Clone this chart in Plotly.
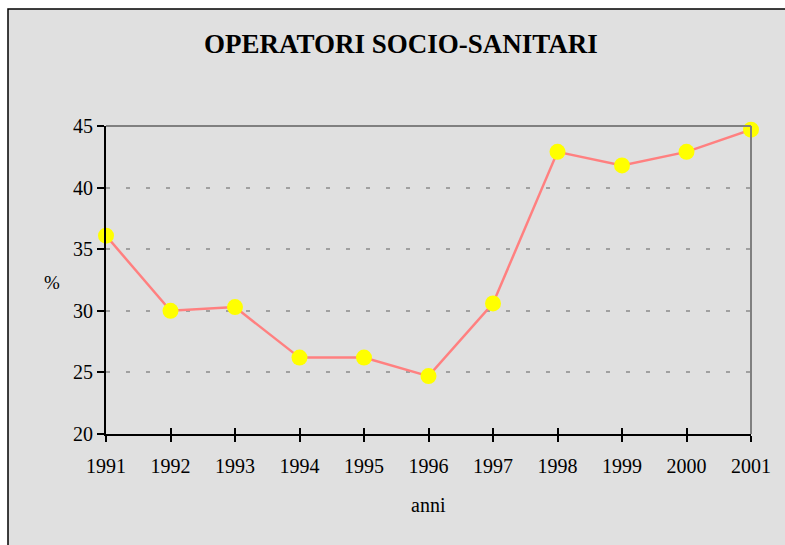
import plotly.graph_objects as go

years = [1991, 1992, 1993, 1994, 1995, 1996, 1997, 1998, 1999, 2000, 2001]
values = [36.1, 30.0, 30.3, 26.2, 26.2, 24.7, 30.6, 42.9, 41.8, 42.9, 44.7]
y_ticks = [20, 25, 30, 35, 40, 45]
title_text = "OPERATORI SOCIO-SANITARI"
x_title = "anni"
y_title = "%"

W, H = 785, 545
L, R, T, B = 106, 34, 126, 111
pw, ph = W - L - R, H - T - B

font_family = "Liberation Serif, Times New Roman, serif"

fig = go.Figure()
fig.add_trace(go.Scatter(
    x=years, y=values, mode="lines+markers",
    line=dict(color="#ff8080", width=2.5),
    marker=dict(color="#ffff00", size=16, line=dict(width=0)),
    cliponaxis=False, showlegend=False,
))
# invisible trace for overlay axis (crossing ticks)
fig.add_trace(go.Scatter(x=years, y=values, xaxis="x2", mode="none",
                         showlegend=False, hoverinfo="skip"))

def px_x(px):
    return (px - L) / pw

def px_y(py):
    return (H - B - py) / ph

shapes = [
    dict(type="rect", xref="paper", yref="paper",
         x0=px_x(8), y0=px_y(600), x1=px_x(850), y1=px_y(9),
         fillcolor="#e0e0e0", line=dict(color="black", width=1.5), layer="below"),
    dict(type="line", xref="paper", yref="paper", x0=0, x1=1, y0=1, y1=1,
         line=dict(color="#808080", width=2), layer="above"),
    dict(type="line", xref="paper", yref="paper", x0=1, x1=1, y0=0, y1=1,
         line=dict(color="#808080", width=2), layer="above"),
]

fig.update_layout(
    width=W, height=H,
    margin=dict(l=L, r=R, t=T, b=B),
    paper_bgcolor="white",
    plot_bgcolor="#e0e0e0",
    font=dict(family=font_family, color="black", size=20),
    shapes=shapes,
    annotations=[
        dict(text="<b>" + title_text + "</b>", xref="paper", yref="paper",
             x=px_x(401), y=px_y(44), showarrow=False,
             font=dict(size=27, family=font_family, color="black"),
             xanchor="center", yanchor="middle"),
        dict(text=y_title, xref="paper", yref="paper",
             x=px_x(52), y=px_y(282), showarrow=False,
             font=dict(size=19), xanchor="center", yanchor="middle"),
        dict(text=x_title, xref="paper", yref="paper",
             x=px_x(428), y=px_y(505), showarrow=False,
             font=dict(size=20), xanchor="center", yanchor="middle"),
    ],
    xaxis=dict(
        range=[years[0], years[-1]], tickmode="array", tickvals=years,
        ticktext=[str(y) for y in years],
        showline=True, linecolor="black", linewidth=2,
        ticks="outside", ticklen=6, tickwidth=1.5, tickcolor="black",
        showgrid=False, zeroline=False, fixedrange=True,
        tickfont=dict(size=20), ticklabelstandoff=7,
    ),
    xaxis2=dict(
        overlaying="x", matches="x", side="bottom", anchor="y",
        tickmode="array", tickvals=years, showticklabels=False,
        ticks="inside", ticklen=6, tickwidth=1.5, tickcolor="black",
        showline=False, showgrid=False, zeroline=False,
    ),
    yaxis=dict(
        range=[y_ticks[0], y_ticks[-1]], tickmode="array", tickvals=y_ticks,
        showline=True, linecolor="black", linewidth=2,
        ticks="outside", ticklen=7, tickwidth=1.5, tickcolor="black",
        showgrid=True, gridcolor="#a0a0a0", gridwidth=1.5, griddash="4px,16px",
        zeroline=False, fixedrange=True,
        tickfont=dict(size=20),
    ),
)

fig.write_html("out.html", config={"displayModeBar": False},
               post_script="document.body.style.margin='0px';document.body.style.overflow='hidden';")
